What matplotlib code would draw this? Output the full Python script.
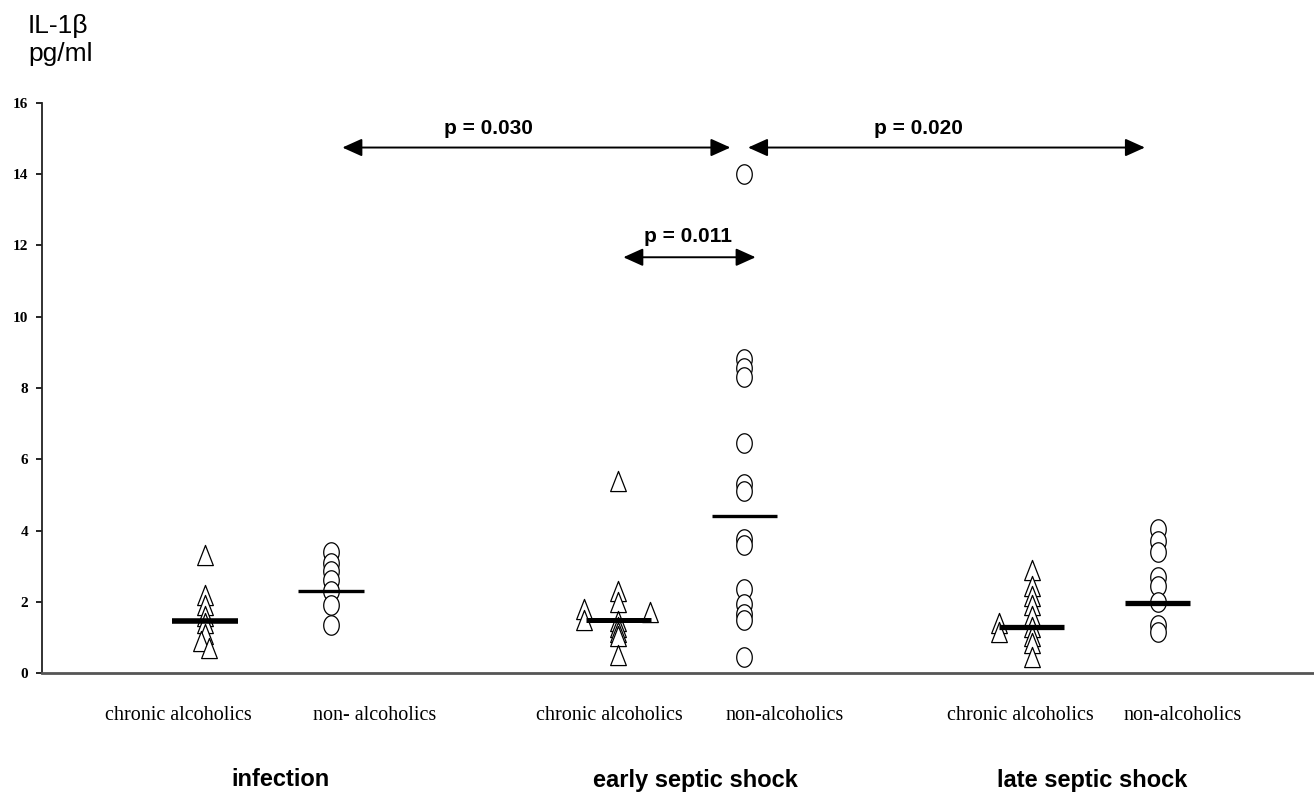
import numpy as np
import matplotlib
matplotlib.use("Agg")
import matplotlib.pyplot as plt
from matplotlib.path import Path
from matplotlib.transforms import blended_transform_factory

# ---------------- data ----------------
groups = ["infection", "early septic shock", "late septic shock"]
sub_labels = ["chronic alcoholics", "non- alcoholics",
              "chronic alcoholics", "non-alcoholics",
              "chronic alcoholics", "non-alcoholics"]

inf_chronic = [3.3, 2.2, 1.9, 1.6, 1.4, 1.1, 0.9, 0.7]
inf_chronic_jit = [0, 0, 0, 0, 0, 0, -0.03, 0.03]
inf_non = [3.4, 3.1, 2.85, 2.6, 2.3, 1.9, 1.35]
inf_non_jit = [0, 0, 0, 0, 0, 0, 0]

early_chronic = [5.4, 2.3, 2.0, 1.45, 1.3, 1.15, 1.05, 0.5, 1.8, 1.5, 1.7]
early_chronic_jit = [0, 0, 0, 0, 0, 0, 0, 0, -0.27, -0.27, 0.25]
early_non = [14.0, 8.8, 8.55, 8.3, 6.45, 5.3, 5.1, 3.75, 3.6, 2.35, 1.95, 1.65, 1.5, 0.45]
early_non_jit = [0] * 14

late_chronic = [2.9, 2.45, 2.15, 1.9, 1.6, 1.3, 1.05, 0.85, 0.45, 1.4, 1.15]
late_chronic_jit = [0, 0, 0, 0, 0, 0, 0, 0, 0, -0.26, -0.26]
late_non = [4.05, 3.7, 3.4, 2.7, 2.45, 2.0, 1.35, 1.15]
late_non_jit = [0] * 8

medians = [1.45, 2.3, 1.5, 4.4, 1.28, 1.97]

# comparisons: (x_start, x_end, y, label, label_x, label_y)
comparisons = [
    (1.09, 4.17, 14.75, "p = 0.030", 2.25, 15.28),
    (4.31, 7.46, 14.75, "p = 0.020", 5.66, 15.28),
    (3.32, 4.37, 11.67, "p = 0.011", 3.83, 12.25),
]

yticks = [0, 2, 4, 6, 8, 10, 12, 14, 16]

# ---------------- layout ----------------
group_gap = 3.28
positions = [g * group_gap + s for g in range(3) for s in range(2)]
label_x = [-0.21, 1.35, 3.21, 4.60, 6.47, 7.76]
group_label_x = [0.60, 3.89, 7.04]

series = [(inf_chronic, inf_chronic_jit), (inf_non, inf_non_jit),
          (early_chronic, early_chronic_jit), (early_non, early_non_jit),
          (late_chronic, late_chronic_jit), (late_non, late_non_jit)]
median_lw = [4.0, 2.4, 3.6, 2.4, 3.8, 3.8]

tri = Path([(-0.78, -1), (0.78, -1), (0, 1), (-0.78, -1)],
           [Path.MOVETO, Path.LINETO, Path.LINETO, Path.CLOSEPOLY])
t = np.linspace(0, 2 * np.pi, 60)
ell = Path(np.column_stack([0.8 * np.cos(t), np.sin(t)]))

fig = plt.figure(figsize=(13.14, 7.96), dpi=100)
ax = fig.add_axes([42 / 1314, 123 / 796, 1 - 42 / 1314, 570 / 796])

for i, ((vals, jit), pos) in enumerate(zip(series, positions)):
    xs = [pos + j for j in jit]
    marker = tri if i % 2 == 0 else ell
    ms = 14.5 if i % 2 == 0 else 14.0
    ax.plot(xs, vals, linestyle="none", marker=marker, markersize=ms,
            markerfacecolor="white", markeredgecolor="black",
            markeredgewidth=0.9, zorder=3)
    ax.hlines(medians[i], pos - 0.26, pos + 0.26, colors="black",
              linewidth=median_lw[i], zorder=4)

for x0, x1, y, lab, lx, ly in comparisons:
    ax.annotate("", xy=(x1, y), xytext=(x0, y),
                arrowprops=dict(arrowstyle="<|-|>,head_length=1.0,head_width=0.45",
                                mutation_scale=12, color="black", lw=1.4,
                                shrinkA=0, shrinkB=0), zorder=5)
    ax.text(lx, ly, lab, ha="center", va="center", fontsize=15,
            fontweight="bold", family="Liberation Sans", zorder=6)

ax.set_xlim(-1.294, 8.802)
ax.set_ylim(0, 16)
ax.set_yticks(yticks)
ax.set_yticklabels([str(v) for v in yticks], fontsize=11, fontweight="bold",
                   family="Liberation Serif")
ax.tick_params(axis="y", direction="out", length=4, width=1.2, pad=6)
ax.set_xticks([])
for s in ["top", "right"]:
    ax.spines[s].set_visible(False)
ax.spines["left"].set_linewidth(1.3)
ax.spines["left"].set_color("#222222")
ax.spines["bottom"].set_linewidth(2.0)
ax.spines["bottom"].set_color("#555555")

trans = blended_transform_factory(ax.transData, fig.transFigure)
for lx, lab in zip(label_x, sub_labels):
    ax.text(lx, 1 - 715 / 796, lab, transform=trans, ha="center", va="center",
            fontsize=14.5, family="Liberation Serif", clip_on=False)
for gx, g in zip(group_label_x, groups):
    ax.text(gx, 1 - 780 / 796, g, transform=trans, ha="center", va="center",
            fontsize=17, fontweight="bold", family="Liberation Sans", clip_on=False)

fig.text(28 / 1314, 1 - 33 / 796, "IL-1β", ha="left", va="baseline",
         fontsize=19, family="Liberation Sans")
fig.text(28 / 1314, 1 - 61 / 796, "pg/ml", ha="left", va="baseline",
         fontsize=19, family="Liberation Sans")

fig.savefig("out.png", dpi=100, facecolor="white")
